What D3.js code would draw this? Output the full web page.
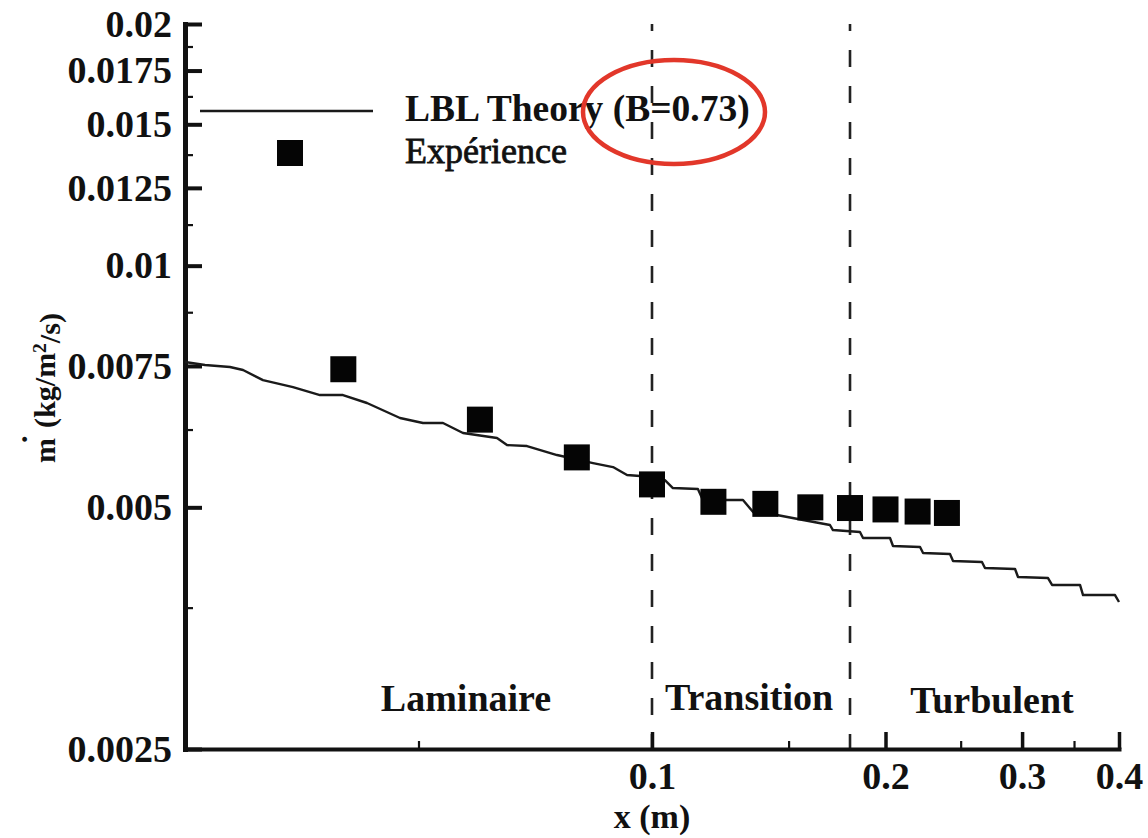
<!DOCTYPE html>
<html>
<head>
<meta charset="utf-8">
<script src="https://cdn.jsdelivr.net/npm/d3@7"></script>
<style>
  html, body { margin: 0; padding: 0; background: #fff; }
  svg { display: block; }
  text { font-family: "Liberation Serif", "Times New Roman", serif; fill: #111; }
</style>
</head>
<body>
<svg id="chart" width="1148" height="838"></svg>
<script>
// Mass loss rate along the plate: LBL theory curve and measurements
const lblX = [0.0250, 0.02653, 0.02857, 0.02970, 0.03151, 0.03445, 0.03732, 0.03996, 0.04291, 0.04733,
              0.05067, 0.05377, 0.05706, 0.06312, 0.06502, 0.06900, 0.07543, 0.08394, 0.08907, 0.09285,
              0.1003, 0.1039, 0.1064, 0.1146, 0.1163, 0.1310, 0.1350, 0.1449, 0.1566, 0.1696,
              0.1711, 0.1854, 0.1871, 0.2027, 0.2045, 0.2216, 0.2236, 0.2422, 0.2444, 0.2663,
              0.2687, 0.2938, 0.2964, 0.3240, 0.3279, 0.3563, 0.3595, 0.3953, 0.4000];
const lblY = [0.007585, 0.007520, 0.007477, 0.007413, 0.007203, 0.007060, 0.006900, 0.006900, 0.006744, 0.006460,
              0.006368, 0.006368, 0.006188, 0.006099, 0.005978, 0.005961, 0.005809, 0.005677, 0.005612, 0.005485,
              0.005454, 0.005407, 0.005284, 0.005270, 0.005106, 0.005106, 0.004933, 0.004891, 0.004821, 0.004753,
              0.004685, 0.004658, 0.004579, 0.004579, 0.004475, 0.004462, 0.004386, 0.004373, 0.004287, 0.004274,
              0.004201, 0.004189, 0.004094, 0.004082, 0.004002, 0.004002, 0.003888, 0.003888, 0.003811];

const expX = [0.04, 0.06, 0.08, 0.10, 0.12, 0.14, 0.16, 0.18, 0.20, 0.22, 0.24];
const expY = [0.00743, 0.00643, 0.00577, 0.00534, 0.00508, 0.00505, 0.00500, 0.00499, 0.00497, 0.00494, 0.00492];

const xTicksMajor = [0.1, 0.2, 0.3, 0.4];
const xTickLabels = ["0.1", "0.2", "0.3", "0.4"];
const xTicksMinor = [0.05, 0.15, 0.25, 0.35];

const yTicksMajor = [0.0025, 0.005, 0.0075, 0.01, 0.0125, 0.015, 0.0175, 0.02];
const yTickLabels = ["0.0025", "0.005", "0.0075", "0.01", "0.0125", "0.015", "0.0175", "0.02"];
const yTicksMinor = [0.00375, 0.00625, 0.00875, 0.01125, 0.01375, 0.01625, 0.01875];

const regimeBounds = [0.1, 0.18];
const regimeNames = ["Laminaire", "Transition", "Turbulent"];
const legendNames = ["LBL Theory (B=0.73)", "Expérience"];

const svg = d3.select("#chart");
const ink = "#111";

const x = d3.scaleLog().domain([0.025, 0.4]).range([185, 1119]);
const y = d3.scaleLog().domain([0.0025, 0.02]).range([749, 24]);

// regime boundaries
svg.append("g").selectAll("line").data(regimeBounds).join("line")
  .attr("x1", d => x(d)).attr("x2", d => x(d))
  .attr("y1", y(0.02)).attr("y2", y(0.0025))
  .attr("stroke", "#222").attr("stroke-width", 2.6)
  .attr("stroke-dasharray", "17 19").attr("stroke-dashoffset", 10);

// y axis: minor then major ticks, pointing into the plot
const yMinor = svg.append("g").attr("transform", `translate(${x(0.025)},0)`)
  .call(d3.axisLeft(y).tickValues(yTicksMinor).tickFormat("").tickSizeInner(-8).tickSizeOuter(0));
yMinor.select(".domain").remove();
yMinor.selectAll(".tick line").attr("stroke", ink).attr("stroke-width", 2.2);

const yAxis = svg.append("g").attr("transform", `translate(${x(0.025)},0)`)
  .call(d3.axisLeft(y).tickValues(yTicksMajor).tickFormat((d, i) => yTickLabels[i])
    .tickSizeInner(-17).tickSizeOuter(0).tickPadding(13));
yAxis.select(".domain").attr("stroke", ink).attr("stroke-width", 5).attr("stroke-linecap", "square");
yAxis.selectAll(".tick line").attr("stroke", ink).attr("stroke-width", 4);
yAxis.selectAll(".tick text").attr("font-size", 38).attr("font-weight", "bold")
  .attr("font-family", "Liberation Serif, serif").attr("fill", ink);

// x axis
const xMinor = svg.append("g").attr("transform", `translate(0,${y(0.0025)})`)
  .call(d3.axisBottom(x).tickValues(xTicksMinor).tickFormat("").tickSizeInner(-8).tickSizeOuter(0));
xMinor.select(".domain").remove();
xMinor.selectAll(".tick line").attr("stroke", ink).attr("stroke-width", 2.2);

const xAxis = svg.append("g").attr("transform", `translate(0,${y(0.0025)})`)
  .call(d3.axisBottom(x).tickValues(xTicksMajor).tickFormat((d, i) => xTickLabels[i])
    .tickSizeInner(-17).tickSizeOuter(0).tickPadding(13));
xAxis.select(".domain").attr("stroke", ink).attr("stroke-width", 4).attr("stroke-linecap", "square");
xAxis.selectAll(".tick line").attr("stroke", ink).attr("stroke-width", 3.5);
xAxis.selectAll(".tick text").attr("font-size", 38).attr("font-weight", "bold")
  .attr("font-family", "Liberation Serif, serif").attr("fill", ink);

// theory curve
const lblData = lblX.map((v, i) => [v, lblY[i]]);
svg.append("path").datum(lblData)
  .attr("fill", "none").attr("stroke", "#1a1a1a").attr("stroke-width", 2.4)
  .attr("stroke-linejoin", "round")
  .attr("d", d3.line().x(d => x(d[0])).y(d => y(d[1])));

// measurements
const sq = 26;
svg.append("g").selectAll("rect").data(expX.map((v, i) => [v, expY[i]])).join("rect")
  .attr("x", d => x(d[0]) - sq / 2).attr("y", d => y(d[1]) - sq / 2)
  .attr("width", sq).attr("height", sq).attr("fill", "#050505");

// regime labels
const regimeLayout = [[466, 711], [749, 710], [992, 713]];
svg.append("g").selectAll("text").data(regimeNames).join("text")
  .attr("x", (d, i) => regimeLayout[i][0]).attr("y", (d, i) => regimeLayout[i][1])
  .attr("text-anchor", "middle").attr("font-size", 38).attr("font-weight", "bold")
  .text(d => d);

// legend
const lg = svg.append("g");
lg.append("line").attr("x1", 200).attr("x2", 373).attr("y1", 111).attr("y2", 111)
  .attr("stroke", "#1a1a1a").attr("stroke-width", 2.4);
lg.append("rect").attr("x", 290 - sq / 2).attr("y", 153 - sq / 2).attr("width", sq).attr("height", sq)
  .attr("fill", "#050505");
lg.append("text").attr("x", 405).attr("y", 121).attr("font-size", 37.5).attr("font-weight", "bold")
  .text(legendNames[0]);
lg.append("text").attr("x", 405).attr("y", 163).attr("font-size", 36)
  .attr("stroke", ink).attr("stroke-width", 0.8)
  .text(legendNames[1]);

// axis titles
svg.append("text").attr("x", 652).attr("y", 828).attr("text-anchor", "middle")
  .attr("font-size", 34).attr("font-weight", "bold").text("x (m)");

const yt = svg.append("text").attr("transform", "translate(55,388) rotate(-90)")
  .attr("text-anchor", "middle").attr("font-size", 30).attr("font-weight", "bold");
yt.append("tspan").text("m");
yt.append("tspan").attr("dx", -5).attr("dy", "-0.95em").text(".");
yt.append("tspan").attr("dy", "0.95em").text(" (kg/m");
yt.append("tspan").attr("dy", "-0.45em").attr("font-size", "0.65em").text("2");
yt.append("tspan").attr("dy", "0.45em").text("/s)");

// highlight ring around the parameter value
svg.append("ellipse").attr("cx", 674).attr("cy", 112).attr("rx", 91).attr("ry", 52)
  .attr("fill", "none").attr("stroke", "#e2372a").attr("stroke-width", 4.5);
</script>
</body>
</html>
